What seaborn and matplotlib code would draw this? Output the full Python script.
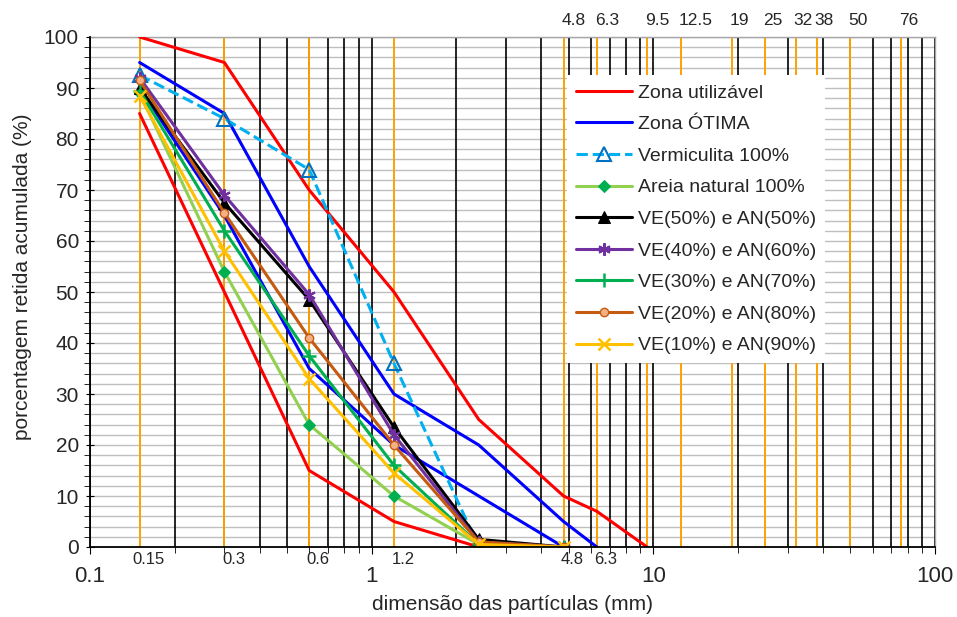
import numpy as np
import pandas as pd
import matplotlib
matplotlib.use("Agg")
import matplotlib.pyplot as plt
import matplotlib.transforms as mtransforms
from matplotlib.ticker import FixedLocator, FuncFormatter, MultipleLocator, NullFormatter
import seaborn as sns

sns.set_style("white")
plt.rcParams['font.family'] = ['Liberation Sans', 'DejaVu Sans']

# ---------------- data ----------------
sieves = [0.15, 0.3, 0.6, 1.2, 2.4, 4.8, 6.3, 9.5]

util_inf = [85, 50, 15, 5, 0]
util_sup = [100, 95, 70, 50, 25, 10, 7, 0]
otima_inf = [90, 65, 35, 20, 10, 0]
otima_sup = [95, 85, 55, 30, 20, 5, 0]
vermiculita = [92.5, 84, 74, 36, 0]
areia = [89, 54, 24, 10, 0.5, 0]
ve50 = [90, 67.5, 48.5, 23.5, 1.5, 0]
ve40 = [92, 69, 49.5, 22, 1, 0]
ve30 = [89.5, 62, 37.5, 16, 0.5, 0]
ve20 = [91.5, 65.5, 41, 20, 1, 0]
ve10 = [88.5, 58, 33, 14.5, 0.5, 0]

labels = ["Zona utilizável", "Zona ÓTIMA", "Vermiculita 100%", "Areia natural 100%",
          "VE(50%) e AN(50%)", "VE(40%) e AN(60%)", "VE(30%) e AN(70%)",
          "VE(20%) e AN(80%)", "VE(10%) e AN(90%)"]

orange_lines = [0.15, 0.3, 0.6, 1.2, 4.8, 6.3, 9.5, 12.5, 19, 25, 32, 38, 50, 76]
top_labels = ["4.8", "6.3", "9.5", "12.5", "19", "25", "32", "38", "50", "76"]
top_label_pos = [4.8, 6.3, 9.5, 12.5, 19, 25, 32, 38, 50, 76]
bottom_labels = ["0.15", "0.3", "0.6", "1.2", "4.8", "6.3"]
bottom_label_pos = [0.15, 0.3, 0.6, 1.2, 4.8, 6.3]

# ---------------- figure ----------------
W, H = 957, 617
fig = plt.figure(figsize=(W / 100, H / 100), dpi=100)
ax = fig.add_axes([90 / W, 1 - 547 / H, 845 / W, 510 / H])
ax.set_xscale('log')
ax.set_xlim(0.1, 100)
ax.set_ylim(0, 100)

# grid lines
for v in np.arange(2, 101, 2):
    ax.axhline(v, color='#BFBFBF', lw=1.0, zorder=0.5)
minor_vals = [m * 10.0 ** e for e in (-1, 0, 1) for m in range(1, 10)] + [100]
for v in minor_vals:
    ax.axvline(v, color='black', lw=1.2, zorder=0.6)
for v in orange_lines:
    ax.axvline(v, color='#FFA000', lw=1.4, zorder=0.7)

lw = 2.2
def line(xs, ys, **kw):
    sns.lineplot(x=xs, y=ys, ax=ax, sort=False, estimator=None, linewidth=lw, **kw)

line(sieves[:len(util_inf)], util_inf, color='#FF0000', label=labels[0], zorder=3)
line(sieves[:len(util_sup)], util_sup, color='#FF0000', legend=False, zorder=3)
line(sieves[:len(otima_sup)], otima_sup, color='#0000FF', label=labels[1], zorder=3)
line(sieves[:len(otima_inf)], otima_inf, color='#0000FF', legend=False, zorder=3)
line(sieves[:len(vermiculita)], vermiculita, color='#00B0F0', linestyle='--', marker='^',
     markersize=10, markerfacecolor='none', markeredgecolor='#0070C0', markeredgewidth=1.5,
     label=labels[2], zorder=4)
line(sieves[:len(areia)], areia, color='#92D050', marker='D', markersize=6,
     markerfacecolor='#00B050', markeredgecolor='#00B050', label=labels[3], zorder=4)
line(sieves[:len(ve50)], ve50, color='black', marker='^', markersize=8,
     markerfacecolor='black', markeredgecolor='black', label=labels[4], zorder=4)
line(sieves[:len(ve40)], ve40, color='#7030A0', marker=(6, 2, 0), markersize=9,
     markeredgecolor='#7030A0', markeredgewidth=1.5, label=labels[5], zorder=4)
line(sieves[:len(ve30)], ve30, color='#00B050', marker='+', markersize=10,
     markeredgecolor='#00B050', markeredgewidth=1.8, label=labels[6], zorder=4)
line(sieves[:len(ve20)], ve20, color='#C55A11', marker='o', markersize=6,
     markerfacecolor='#F4B183', markeredgecolor='#C55A11', markeredgewidth=1.0,
     label=labels[7], zorder=4)
line(sieves[:len(ve10)], ve10, color='#FFC000', marker='x', markersize=8,
     markeredgecolor='#FFC000', markeredgewidth=1.8, label=labels[8], zorder=4)

# axes styling
for s in ['top', 'right']:
    ax.spines[s].set_color('#A6A6A6')
    ax.spines[s].set_linewidth(1.0)
for s in ['left', 'bottom']:
    ax.spines[s].set_color('black')
    ax.spines[s].set_linewidth(1.3)
    ax.spines[s].set_zorder(5)

ax.xaxis.set_major_locator(FixedLocator([0.1, 1, 10, 100]))
ax.xaxis.set_major_formatter(FuncFormatter(lambda v, p: f"{v:g}"))
ax.xaxis.set_minor_formatter(NullFormatter())
ax.yaxis.set_major_locator(MultipleLocator(10))
ax.yaxis.set_minor_locator(MultipleLocator(2))
ax.tick_params(axis='x', which='major', labelsize=16, pad=9, length=5, direction='out',
               bottom=True, color='black')
ax.tick_params(axis='x', which='minor', length=4, direction='out', bottom=True, color='black')
ax.tick_params(axis='y', which='major', labelsize=15, pad=5, length=6, direction='inout',
               left=True, color='black')
ax.tick_params(axis='y', which='minor', length=4, direction='out', left=True, color='black')

ax.set_xlabel("dimensão das partículas (mm)", fontsize=15)
ax.set_ylabel("porcentagem retida acumulada (%)", fontsize=15)
ax.xaxis.set_label_coords(0.5, -0.113)
ax.yaxis.set_label_coords(-0.08, 0.53)
ax.xaxis.label.set_va('center')
ax.yaxis.label.set_va('center')

# annotations of sieve sizes
trans = mtransforms.blended_transform_factory(ax.transData, ax.transAxes)
offs = mtransforms.ScaledTranslation(-2 / 100, 0, fig.dpi_scale_trans)
for lab, v in zip(top_labels, top_label_pos):
    ax.text(v, 1.033, lab, transform=trans + offs, ha='left', va='center', fontsize=12.5,
            clip_on=False)
offs2 = mtransforms.ScaledTranslation(9 / 100, 0, fig.dpi_scale_trans)
for lab, v in zip(bottom_labels, bottom_label_pos):
    ax.text(v, -0.024, lab, transform=trans + offs2, ha='center', va='center', fontsize=12,
            clip_on=False)

leg = ax.legend(loc='upper left', bbox_to_anchor=(0.5645, 0.925), fontsize=14,
                frameon=True, fancybox=False, edgecolor='white', framealpha=1,
                handlelength=2.9, handletextpad=0.3, labelspacing=0.72, borderpad=0.45,
                borderaxespad=0)
leg.set_zorder(6)
leg.get_frame().set_linewidth(0)

fig.savefig("out.png", dpi=100)
